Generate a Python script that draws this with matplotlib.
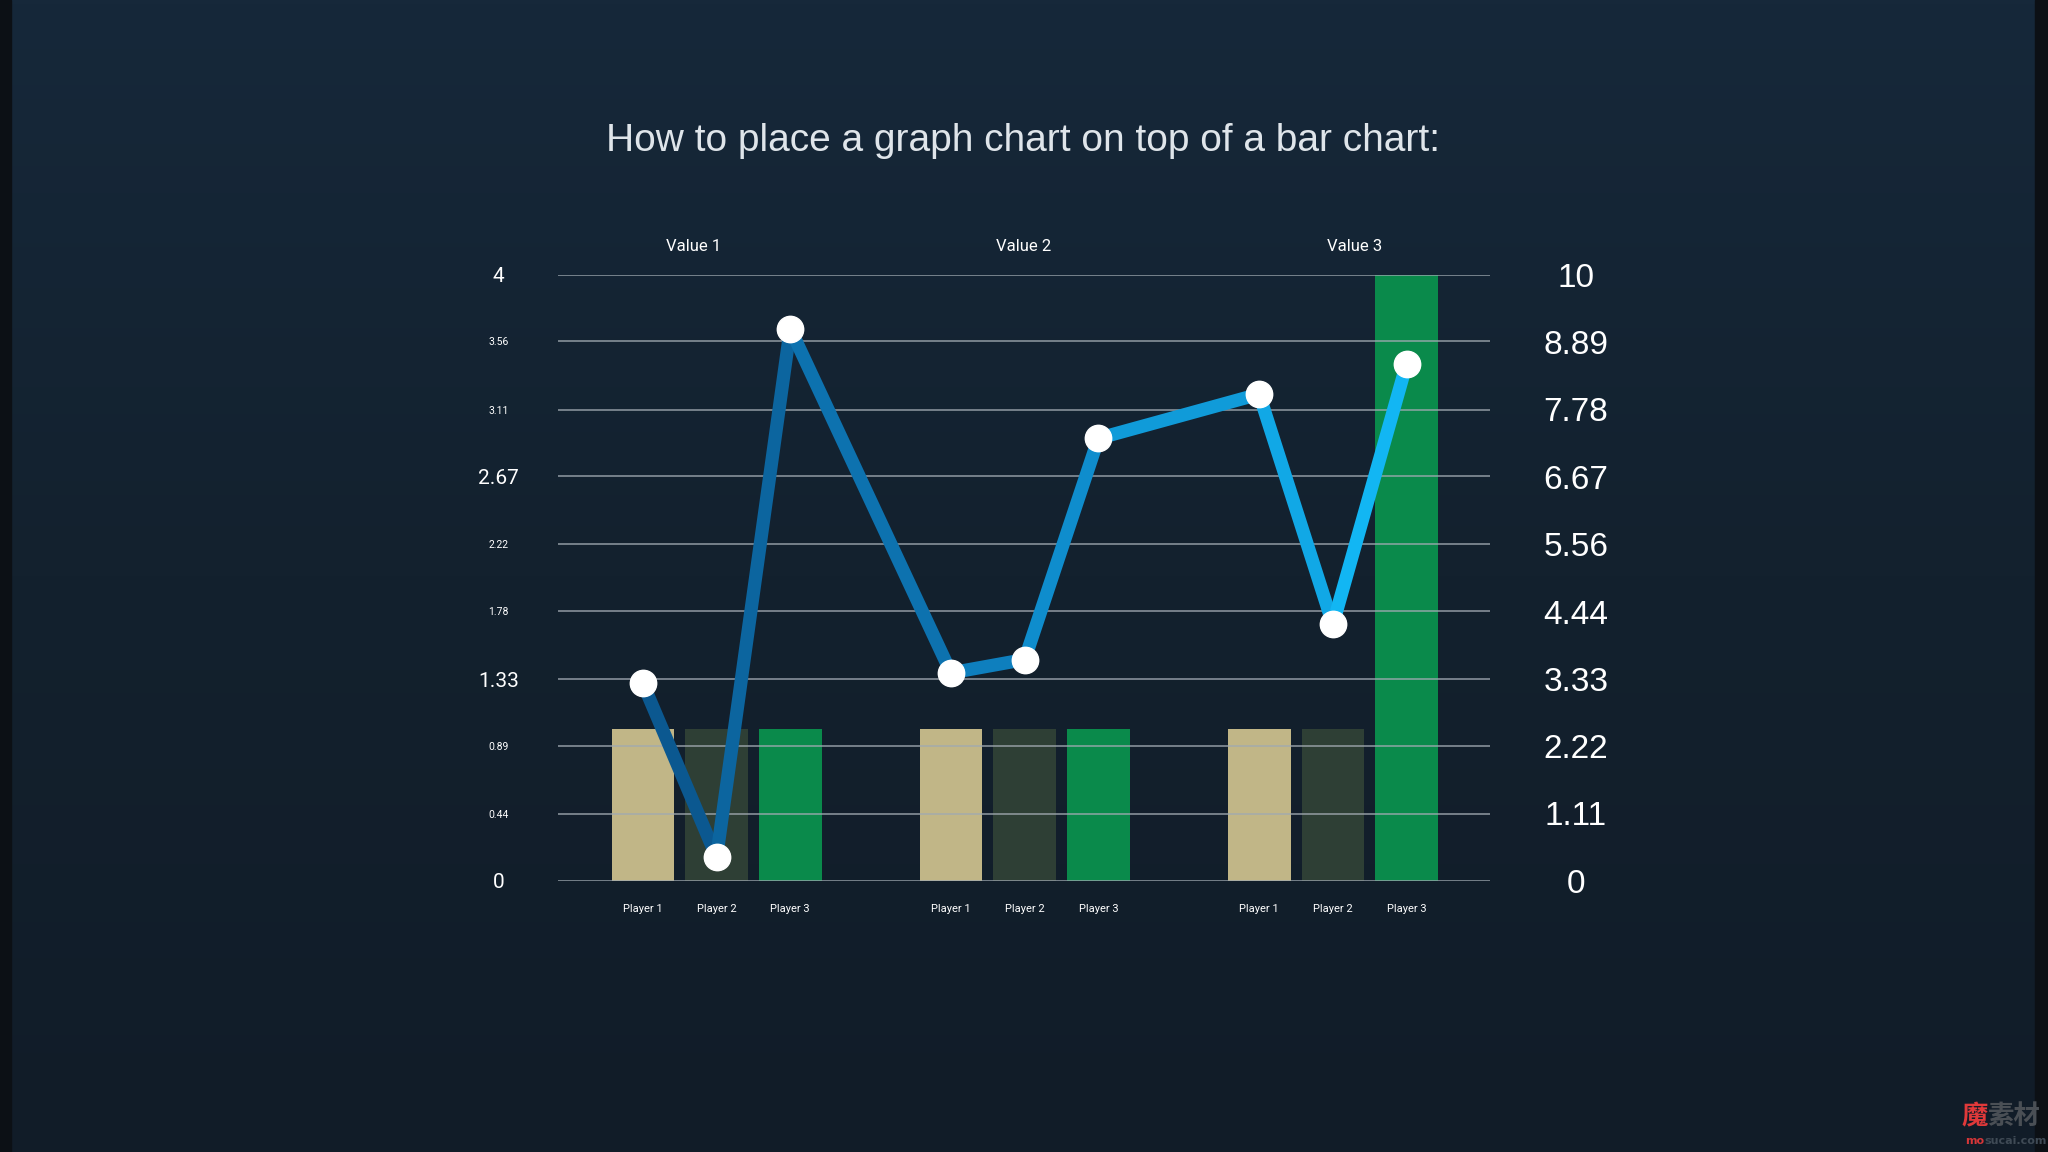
import matplotlib.pyplot as plt
import numpy as np
from matplotlib.collections import LineCollection
from matplotlib.colors import LinearSegmentedColormap

# data
groups = ['Value 1', 'Value 2', 'Value 3']
players = ['Player 1', 'Player 2', 'Player 3']
bar_values = [[1.0, 1.0, 1.0],
              [1.0, 1.0, 1.0],
              [1.0, 1.0, 4.0]]          # left axis (0-4)
line_values = [3.26, 0.39, 9.11,
               3.43, 3.65, 7.30,
               8.03, 4.23, 8.53]        # right axis (0-10)
left_ticks = [0, 0.44, 0.89, 1.33, 1.78, 2.22, 2.67, 3.11, 3.56, 4]
right_ticks = [0, 1.11, 2.22, 3.33, 4.44, 5.56, 6.67, 7.78, 8.89, 10]

bar_colors = ['#c1b687', '#2e3f35', '#0a8a4b']
group_step = 4.18
bar_width = 0.85

fig = plt.figure(figsize=(20.48, 11.52), dpi=100)

# background
bg = fig.add_axes([0, 0, 1, 1], zorder=-10)
grad = np.linspace(0, 1, 256).reshape(-1, 1)
bg_cmap = LinearSegmentedColormap.from_list('bg', ['#16283a', '#13212e', '#111c28'])
bg.imshow(grad, aspect='auto', cmap=bg_cmap, extent=[0, 1, 0, 1])
bg.axvspan(0, 0.0055, color='#0c1015')
bg.axvspan(0.9935, 1, color='#0c1015')
bg.set_xlim(0, 1)
bg.set_ylim(0, 1)
bg.axis('off')

ax = fig.add_axes([0.2725, 0.2355, 0.455, 0.526])
ax.patch.set_alpha(0)

xs = []
for g in range(len(groups)):
    for p in range(len(players)):
        x = g * group_step + p
        xs.append(x)
        ax.bar(x, bar_values[g][p], width=bar_width, color=bar_colors[p],
               zorder=1, linewidth=0)

ax.set_xlim(-1.15, 11.49)
ax.set_ylim(0, 4)
for t in left_ticks:
    ax.axhline(t, color='#a0a9b1', alpha=0.7, linewidth=1.4, zorder=2)

ax.set_yticks(left_ticks)
ax.set_yticklabels([f'{t:g}' for t in left_ticks])
for i, lab in enumerate(ax.get_yticklabels()):
    big = i % 3 == 0
    lab.set_fontsize(15 if big else 7.5)
    lab.set_family('Roboto')
    lab.set_color('white')
    lab.set_horizontalalignment('center')
ax.tick_params(axis='y', length=0, pad=43)

ax.set_xticks(xs)
ax.set_xticklabels(players * len(groups), fontsize=8, color='white', family='Roboto')
ax.tick_params(axis='x', length=0, pad=17)
for s in ax.spines.values():
    s.set_visible(False)

for frac, name in zip([0.1457, 0.5, 0.8543], groups):
    ax.text(frac, 1.046, name, transform=ax.transAxes, ha='center', va='center',
            color='white', fontsize=12, family='Roboto')

ax2 = ax.twinx()
ax2.set_ylim(0, 10)
ax2.set_yticks(right_ticks)
ax2.set_yticklabels([f'{t:g}' for t in right_ticks], fontsize=24, color='white',
                    family='Liberation Sans')
for lab in ax2.get_yticklabels():
    lab.set_horizontalalignment('center')
ax2.tick_params(axis='y', length=0, pad=62)
for s in ax2.spines.values():
    s.set_visible(False)

pts = np.column_stack([xs, line_values])
segs = [pts[i:i + 2] for i in range(len(pts) - 1)]
line_cmap = LinearSegmentedColormap.from_list('ln', ['#0b5890', '#0e86c6', '#12b6f3'])
lc = LineCollection(segs, colors=line_cmap(np.linspace(0, 1, len(segs))),
                    linewidths=9.5, capstyle='round', joinstyle='round', zorder=3)
ax2.add_collection(lc)
ax2.plot(xs, line_values, 'o', color='white', markersize=19, zorder=4)

fig.text(0.4995, 0.878, 'How to place a graph chart on top of a bar chart:',
         ha='center', va='center', fontsize=28, color='#dfe5ea',
         family='Liberation Sans')

# watermark
fig.text(0.9705, 0.0305, '魔', ha='right', va='center', fontsize=19,
         color='#e0393a', family='Noto Sans CJK SC', weight='bold')
fig.text(0.9705, 0.0305, '素材', ha='left', va='center', fontsize=19,
         color='#4a4f55', family='Noto Sans CJK SC', weight='bold')
fig.text(0.969, 0.0095, 'mo', ha='right', va='center', fontsize=8,
         color='#d63638', family='DejaVu Sans', weight='bold')
fig.text(0.969, 0.0095, 'sucai.com', ha='left', va='center', fontsize=8,
         color='#3f4a55', family='DejaVu Sans', weight='bold')

fig.savefig('out.png', dpi=100, facecolor=fig.get_facecolor())
